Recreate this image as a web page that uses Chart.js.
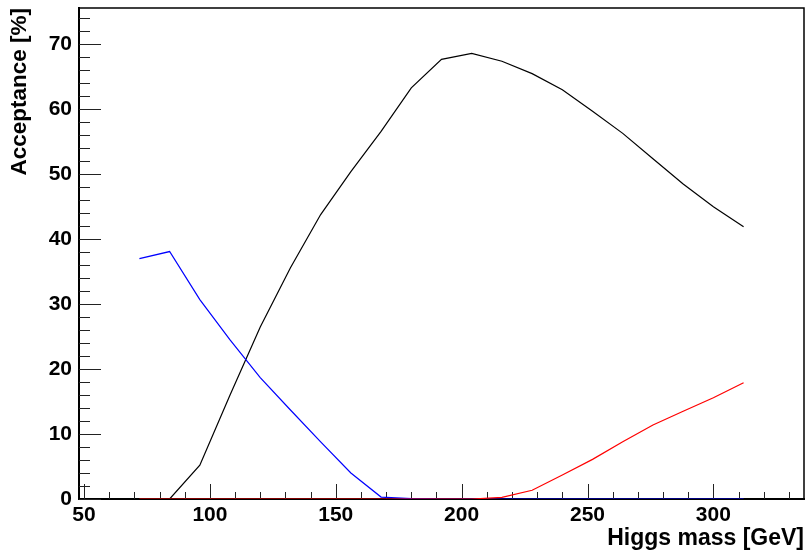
<!DOCTYPE html>
<html>
<head>
<meta charset="utf-8">
<script src="https://cdn.jsdelivr.net/npm/chart.js@4/dist/chart.umd.min.js"></script>
<style>
html,body{margin:0;padding:0;background:#fff;}
#wrap{width:805px;height:552px;position:relative;}
</style>
</head>
<body>
<div id="wrap"><canvas id="c" width="805" height="552"></canvas></div>
<script>
const masses = [72,84,96,108,120,132,144,156,168,180,192,204,216,228,240,252,264,276,288,300,312];
const blackSeries = [0,0,5.2,16.0,26.5,35.6,43.8,50.4,56.6,63.3,67.7,68.6,67.4,65.5,63.0,59.7,56.3,52.4,48.5,45.0,41.9];
const blueSeries = [37.0,38.1,30.7,24.5,18.7,13.7,8.8,4.0,0.3,0.05,0,0,0,0,0,0,0,0,0,0,0];
const redSeries = [0,0,0,0,0,0,0,0,0,0,0,0,0.25,1.35,3.7,6.1,8.8,11.4,13.5,15.6,17.9];
const xTickLabels = [50,100,150,200,250,300];
const yTickLabels = [0,10,20,30,40,50,60,70];
const xRange = [48,336];
const yRange = [0,75.6];

const FONT = "'Liberation Sans', Arial, Helvetica, sans-serif";

const tickPlugin = {
  id: 'rootTicks',
  beforeDatasetsDraw(chart){
    const ctx = chart.ctx, a = chart.chartArea;
    const xs = chart.scales.x, ys = chart.scales.y;
    ctx.save();
    ctx.strokeStyle = '#222';
    ctx.lineWidth = 1;
    ctx.beginPath();
    for(let v=50; v<=xRange[1]; v+=10){
      const px = Math.round(xs.getPixelForValue(v))+0.5;
      const len = (v%50===0)?15:7;
      ctx.moveTo(px,a.bottom); ctx.lineTo(px,a.bottom-len);
    }
    for(let v=0; v<=yRange[1]; v+=2){
      const py = Math.round(ys.getPixelForValue(v))+0.5;
      const len = (v%10===0)?22:11;
      ctx.moveTo(a.left,py); ctx.lineTo(a.left+len,py);
    }
    ctx.stroke();
    ctx.strokeStyle = '#000';
    ctx.lineWidth = 1.5;
    ctx.beginPath();
    ctx.moveTo(a.left, a.top); ctx.lineTo(a.right, a.top); ctx.lineTo(a.right, a.bottom);
    ctx.stroke();
    ctx.restore();
  }
};

const mk = (arr)=>masses.map((m,i)=>({x:m,y:arr[i]}));

new Chart(document.getElementById('c'), {
  type: 'line',
  data: {
    datasets: [
      {label:'black', data: mk(blackSeries), borderColor:'#000000', borderWidth:1.2, pointRadius:0, tension:0, fill:false, order:3},
      {label:'blue', data: mk(blueSeries), borderColor:'#0000ff', borderWidth:1.2, pointRadius:0, tension:0, fill:false, order:2},
      {label:'red', data: mk(redSeries), borderColor:'#ff0000', borderWidth:1.2, pointRadius:0, tension:0, fill:false, order:1}
    ]
  },
  options: {
    responsive: false,
    animation: false,
    layout: {padding: {top: 8, right: 1, left: 0, bottom: 0}},
    plugins: {legend: {display:false}, tooltip: {enabled:false}},
    scales: {
      x: {
        type: 'linear', min: xRange[0], max: xRange[1],
        afterBuildTicks(s){ s.ticks = xTickLabels.map(v=>({value:v})); },
        afterFit(s){ s.height = 53; s.paddingLeft = 0; s.paddingRight = 0; },
        grid: {display: true, drawOnChartArea: false, drawTicks: false},
        border: {display: true, color: '#000', width: 2},
        ticks: {color:'#000', font:{family:FONT, size:21, weight:'bold'}, padding: 4, maxRotation:0, autoSkip:false},
        title: {display:true, text:'Higgs mass [GeV]', align:'end', color:'#000', font:{family:FONT, size:23, weight:'bold'}, padding:{top:-6, bottom:0}}
      },
      y: {
        type: 'linear', min: yRange[0], max: yRange[1],
        afterBuildTicks(s){ s.ticks = yTickLabels.map(v=>({value:v})); },
        afterFit(s){ s.width = 79; s.paddingTop = 0; s.paddingBottom = 0; },
        grid: {display: true, drawOnChartArea: false, drawTicks: false},
        border: {display: true, color: '#000', width: 2},
        ticks: {color:'#000', font:{family:FONT, size:21, weight:'bold'}, padding: 7},
        title: {display:true, text:'Acceptance [%]', align:'end', color:'#000', font:{family:FONT, size:22.5, weight:'bold'}, padding:{top:6, bottom:0}}
      }
    }
  },
  plugins: [tickPlugin]
});
</script>
</body>
</html>
